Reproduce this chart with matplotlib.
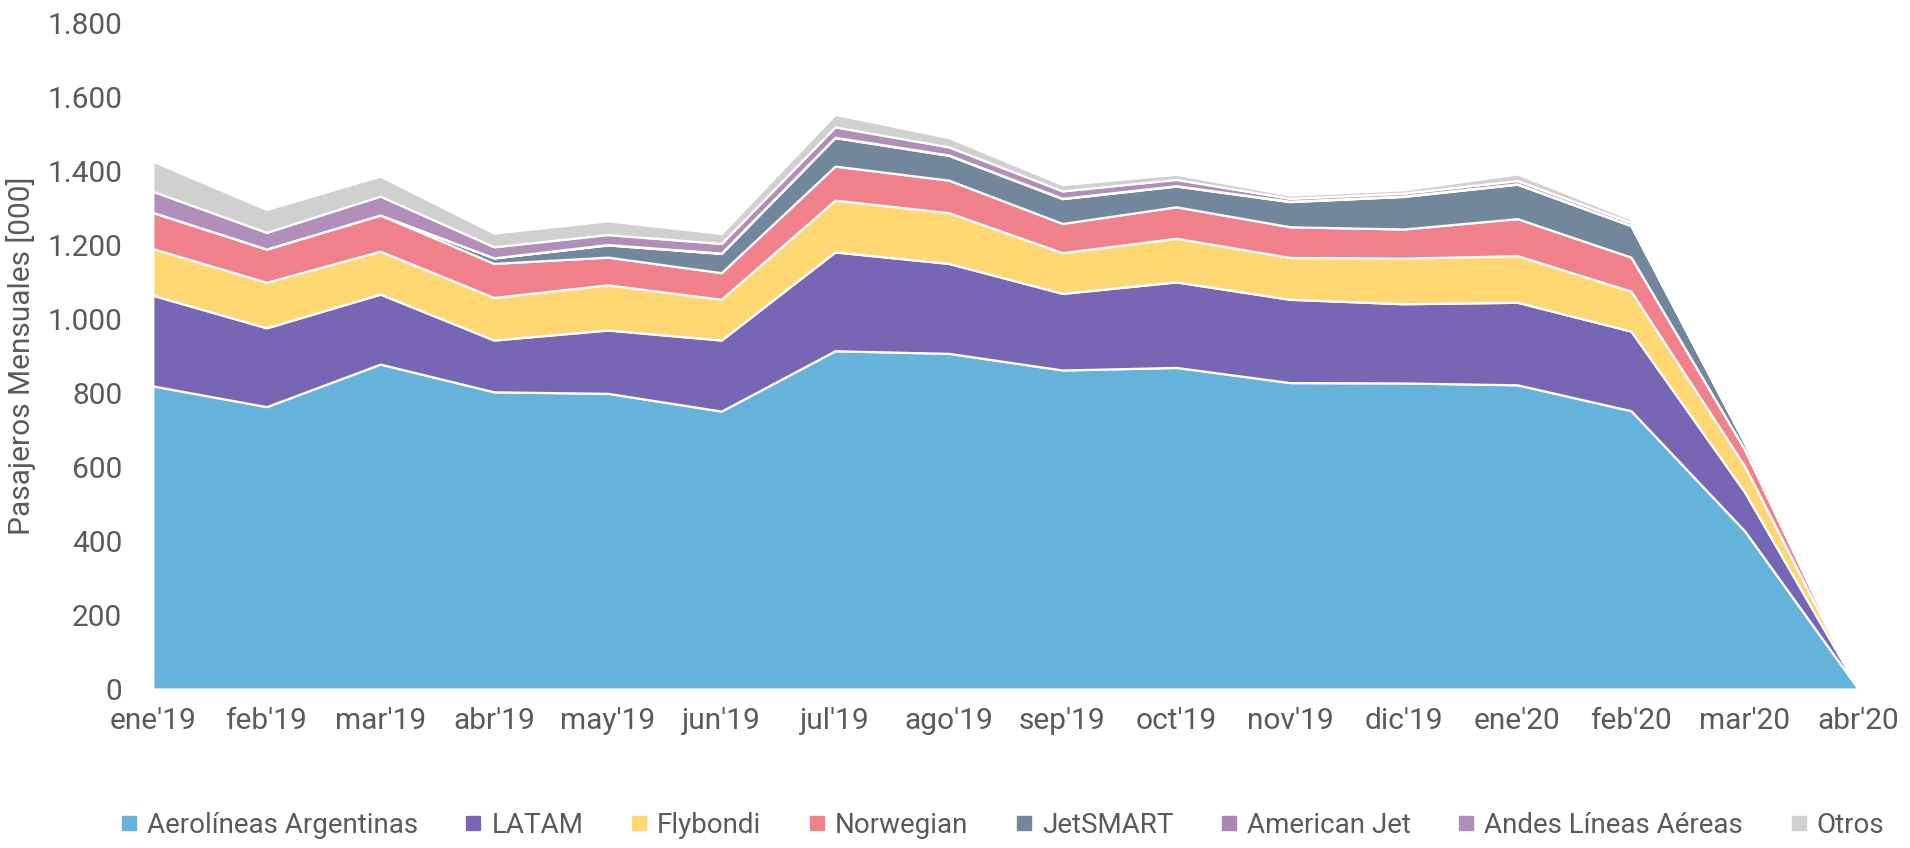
import matplotlib.pyplot as plt
from matplotlib.lines import Line2D
from matplotlib.ticker import FuncFormatter

# datos mensuales (miles de pasajeros)
meses = ["ene'19", "feb'19", "mar'19", "abr'19", "may'19", "jun'19", "jul'19", "ago'19",
         "sep'19", "oct'19", "nov'19", "dic'19", "ene'20", "feb'20", "mar'20", "abr'20"]

aerolineas = [819, 763, 878, 803, 799, 751, 914, 907, 862, 869, 828, 827, 822, 752, 427, 0]
latam = [245, 213, 189, 140, 171, 192, 267, 243, 207, 231, 225, 214, 223, 215, 105, 0]
flybondi = [126, 123, 116, 115, 122, 110, 140, 137, 110, 118, 113, 123, 126, 108, 70, 0]
norwegian = [98, 90, 98, 92, 75, 72, 92, 88, 79, 85, 83, 79, 100, 92, 45, 0]
jetsmart = [0, 0, 0, 15, 33, 52, 77, 67, 67, 56, 68, 88, 93, 85, 18, 0]
american_jet = [0, 0, 0, 0, 1, 1, 1, 1, 1, 1, 1, 1, 1, 1, 0, 0]
andes = [57, 45, 51, 30, 27, 26, 28, 22, 20, 17, 8, 8, 9, 8, 2, 0]
otros = [81, 62, 54, 37, 37, 27, 34, 25, 17, 14, 9, 9, 18, 9, 1, 0]

nombres = ["Aerolíneas Argentinas", "LATAM", "Flybondi", "Norwegian", "JetSMART",
           "American Jet", "Andes Líneas Aéreas", "Otros"]
colores = ["#65b2da", "#7766b4", "#fed672", "#f0818a", "#73879c", "#aa86b4", "#b18db9", "#d0d0d0"]

plt.rcParams['font.family'] = ['Roboto', 'DejaVu Sans']
gris = "#5a5a5a"
fs = 21.5

fig = plt.figure(figsize=(19.1, 8.48), dpi=100)
ax = fig.add_axes([0.080, 0.1875, 0.893, 0.7855])

x = list(range(len(meses)))
ax.stackplot(x, aerolineas, latam, flybondi, norwegian, jetsmart, american_jet, andes, otros,
             colors=colores, edgecolor="white", linewidth=1.6)

ax.set_xlim(0, len(meses) - 1)
ax.set_ylim(0, 1800)
ax.set_yticks(range(0, 1801, 200))
ax.yaxis.set_major_formatter(FuncFormatter(lambda v, p: f"{int(v):,}".replace(",", ".")))
ax.set_xticks(x)
ax.set_xticklabels(meses)

for s in ax.spines.values():
    s.set_visible(False)
ax.tick_params(axis="both", length=0, labelsize=fs, labelcolor=gris)
ax.tick_params(axis="x", pad=13)
ax.tick_params(axis="y", pad=22)

ax.set_ylabel("Pasajeros Mensuales [000]", fontsize=fs, color=gris, labelpad=8)

# leyenda abajo
handles = [Line2D([0], [0], marker="s", linestyle="", markersize=10, markerfacecolor=c,
                  markeredgecolor=c) for c in colores]
leg = fig.legend(handles, nombres, loc="center", bbox_to_anchor=(0.523, 0.027), ncol=8,
                 frameon=False, fontsize=20, handletextpad=0.1, columnspacing=1.45,
                 handlelength=1.1)
for t in leg.get_texts():
    t.set_color(gris)

fig.savefig("out.png", dpi=100)
